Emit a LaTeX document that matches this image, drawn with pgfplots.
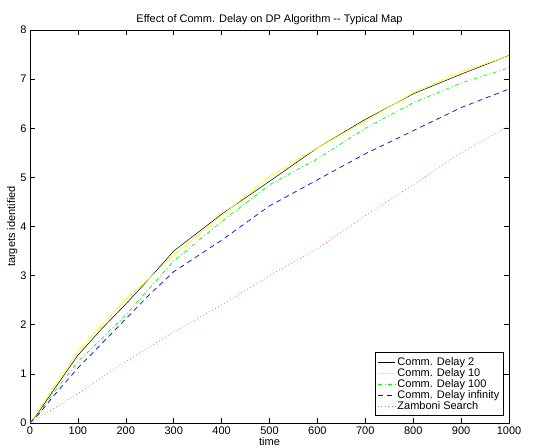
\documentclass[border=0pt]{standalone}
\usepackage{fontspec}
\setmainfont{Liberation Sans}
\usepackage{pgfplots}
\pgfplotsset{compat=1.18}
\usetikzlibrary{calc}
\definecolor{mlyellow}{RGB}{255,255,0}
\definecolor{mlgreen}{RGB}{0,255,0}
\definecolor{mlblue}{RGB}{0,0,255}
\definecolor{mlred}{RGB}{255,90,90}

\begin{document}
\begin{tikzpicture}
  \begin{axis}[
    scale only axis,
    width=479pt, height=393pt,
    xmin=0, xmax=1000, ymin=0, ymax=8,
    xtick={0,100,...,1000}, ytick={0,1,...,8},
    tick align=inside, tick pos=both,
    major tick length=5pt,
    axis line style={line width=0.8pt},
    tick style={black, line width=0.5pt},
    font=\fontsize{11}{13}\selectfont,
    /pgf/number format/assume math mode=true,
    /pgf/number format/set thousands separator={},
    title={Effect of Comm. Delay on DP Algorithm -{}- Typical Map},
    title style={yshift=-4pt},
    xlabel={time}, ylabel={targets identified},
    xlabel style={yshift=3.5pt},
    ylabel style={yshift=-4pt},
    legend style={at={(rel axis cs:0.99,0.018)}, anchor=south east,
      draw=black, line width=0.8pt, font=\fontsize{11}{13}\selectfont,
      row sep=-2.4pt, inner sep=2.5pt},
    legend cell align=left,
    legend image code/.code={\draw[#1, line width=0.7pt] (0cm,0cm) -- (0.6cm,0cm);},
  ]
    \coordinate (bl) at (rel axis cs:0,0);
    \coordinate (tr) at (rel axis cs:1,1);
    \addplot[black, line width=0.5pt] coordinates {
      (0,0) (20,0.25) (50,0.68) (100,1.38) (150,1.92) (200,2.42) (250,2.95)
      (300,3.50) (400,4.25) (500,4.92) (600,5.60) (700,6.18) (800,6.70)
      (900,7.10) (1000,7.48)};
    \addlegendentry{Comm. Delay 2}
    \addplot[mlyellow, line width=0.7pt] coordinates {
      (0,0) (20,0.28) (50,0.75) (100,1.45) (150,2.00) (200,2.52) (250,2.95)
      (300,3.42) (400,4.22) (500,5.02) (600,5.60) (700,6.15) (800,6.72)
      (900,7.15) (1000,7.47)};
    \addlegendentry{Comm. Delay 10}
    \addplot[mlgreen, line width=0.7pt, dash pattern=on 4pt off 2.5pt on 1pt off 2.5pt] coordinates {
      (0,0) (20,0.22) (50,0.62) (100,1.25) (150,1.72) (200,2.20) (250,2.75)
      (300,3.30) (400,4.10) (500,4.85) (600,5.38) (700,6.00) (800,6.52)
      (900,6.92) (1000,7.23)};
    \addlegendentry{Comm. Delay 100}
    \addplot[mlblue, line width=0.7pt, dash pattern=on 5pt off 4pt] coordinates {
      (0,0) (20,0.20) (50,0.56) (100,1.12) (150,1.62) (200,2.12) (250,2.62)
      (300,3.08) (400,3.72) (500,4.42) (600,4.95) (700,5.48) (800,5.95)
      (900,6.42) (1000,6.80)};
    \addlegendentry{Comm. Delay infinity}
    \addplot[mlred, line width=0.7pt, dash pattern=on 0.8pt off 2.6pt] coordinates {
      (0,0) (100,0.60) (200,1.25) (300,1.85) (400,2.40) (500,3.00)
      (600,3.55) (700,4.22) (800,4.85) (900,5.50) (1000,6.05)};
    \addlegendentry{Zamboni Search}
  \end{axis}
  \pgfresetboundingbox
  \path ($(bl)+(-30pt,-25pt)$) rectangle ($(tr)+(33pt,30pt)$);
\end{tikzpicture}
\end{document}
